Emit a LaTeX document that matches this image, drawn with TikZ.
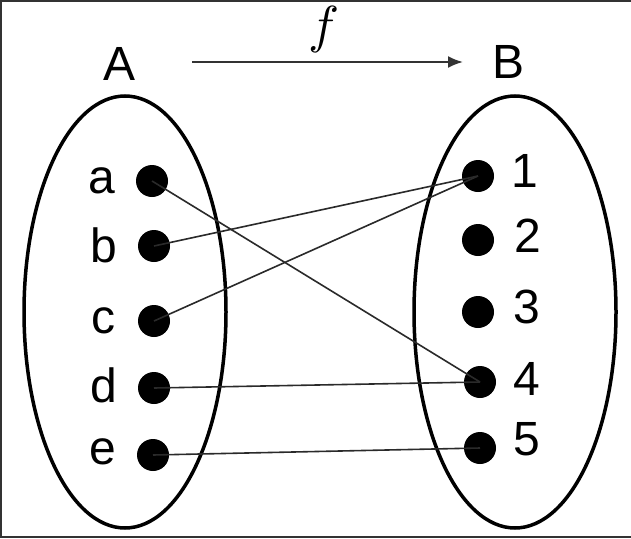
\documentclass[tikz,border=0pt]{standalone}
\usepackage{fontspec}
\setmainfont{Liberation Sans}
\usepackage{unicode-math}
\setmathfont{Latin Modern Math}
\usetikzlibrary{arrows.meta}
\definecolor{frame}{HTML}{333333}
\definecolor{conn}{HTML}{2A2A2A}
\tikzset{
  dotnode/.style={circle,fill=black,inner sep=0pt,minimum size=32pt},
  lbl/.style={anchor=base,inner sep=0pt,font=\fontsize{48}{48}\selectfont},
  setline/.style={line width=3.5pt,black},
  mapline/.style={line width=1.6pt,conn},
}
\begin{document}
\begin{tikzpicture}[x=1pt,y=-1pt]
\useasboundingbox (0,0) rectangle (631,538);
\fill[white] (0,0) rectangle (631,538);
% frame (left, top, bottom)
\draw[frame,line width=2pt] (631,1) -- (1,1) -- (1,537) -- (631,537);
% sets
\draw[setline] (125,312) ellipse [x radius=101, y radius=216];
\draw[setline] (515,312) ellipse [x radius=101, y radius=216];
% set names
\node[lbl] (A) at (120,80) {A};
\node[lbl] (B) at (508,78) {B};
% function arrow
\coordinate (fs) at (192,62);
\coordinate (fe) at (463,62);
\draw[frame,line width=2pt,-{Latex[length=15pt,width=12pt]}] (fs) -- (fe);
\node[anchor=base,inner sep=0pt,font=\fontsize{52}{52}\selectfont] (f) at (324,42) {$f$};
% domain dots
\node[dotnode] (a) at (152,181) {};
\node[dotnode] (b) at (154,246) {};
\node[dotnode] (c) at (154,321) {};
\node[dotnode] (d) at (154,388) {};
\node[dotnode] (e) at (153,455) {};
% codomain dots
\node[dotnode] (n1) at (478,176) {};
\node[dotnode] (n2) at (478,240) {};
\node[dotnode] (n3) at (478,312) {};
\node[dotnode] (n4) at (480,382) {};
\node[dotnode] (n5) at (480,448) {};
% labels
\node[lbl] (la) at (102,193) {a};
\node[lbl] (lb) at (104,262) {b};
\node[lbl] (lc) at (103,333) {c};
\node[lbl] (ld) at (104,402) {d};
\node[lbl] (le) at (103,464) {e};
\node[lbl] (l1) at (525,187) {1};
\node[lbl] (l2) at (528,252) {2};
\node[lbl] (l3) at (527,323) {3};
\node[lbl] (l4) at (527,395) {4};
\node[lbl] (l5) at (527,455) {5};
% mapping
\draw[mapline] (a.center) -- (n4.center);
\draw[mapline] (b.center) -- (n1.center);
\draw[mapline] (c.center) -- (n1.center);
\draw[mapline] (d.center) -- (n4.center);
\draw[mapline] (e.center) -- (n5.center);
\end{tikzpicture}
\end{document}
